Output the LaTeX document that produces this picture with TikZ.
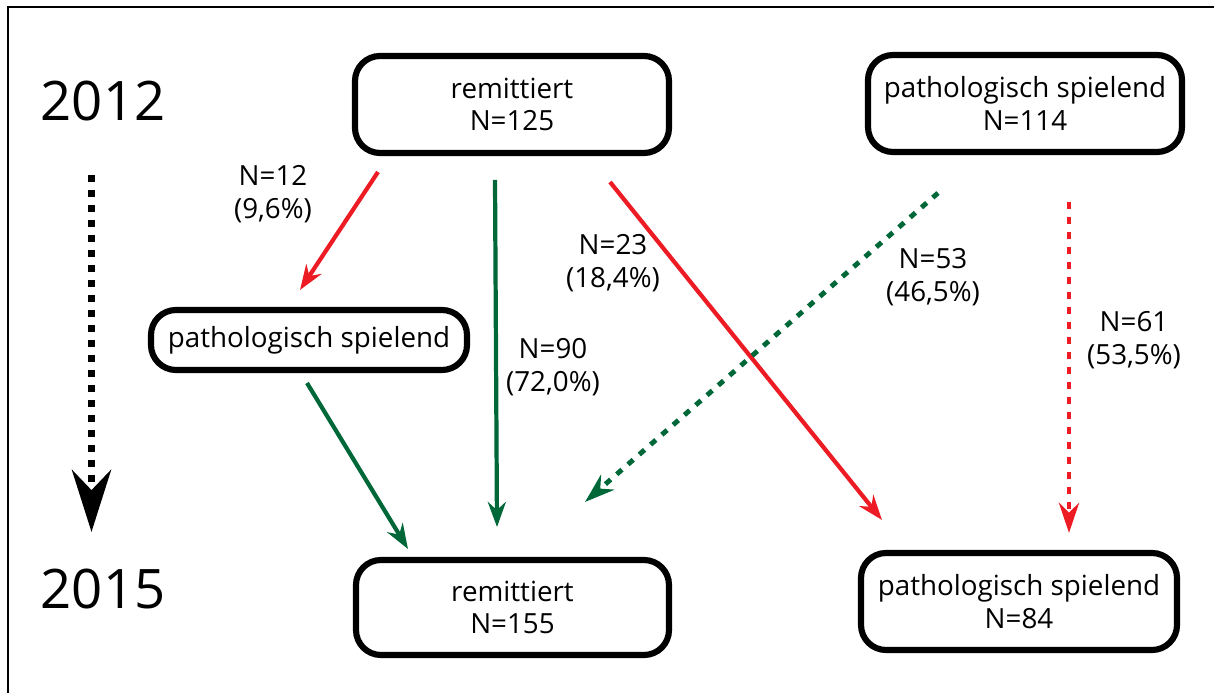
\documentclass[tikz,border=0pt]{standalone}
\usepackage{fontspec}
\setmainfont{Open Sans}
\usetikzlibrary{arrows.meta}
\usepackage{xcolor}
\definecolor{rot}{RGB}{237,28,36}
\definecolor{gruen}{RGB}{0,104,56}
\tikzset{
  gruppe/.style={draw, line width=3.5pt, rounded corners=0.5cm, align=center,
    inner sep=0pt, font=\fontsize{15.8}{18.5}\selectfont},
  anteil/.style={align=center, font=\fontsize{15.8}{18.5}\selectfont},
  jahr/.style={font=\fontsize{31}{36}\selectfont},
  pfeil/.style={line width=2.4pt, -{Stealth[length=0.5cm,width=0.36cm]}},
  punktpfeil/.style={line width=2.8pt, dash pattern=on 0.14cm off 0.16cm,
    -{Stealth[length=0.6cm,width=0.4cm]}}
}

\begin{document}
\begin{tikzpicture}
        \useasboundingbox (0,0) rectangle (24.28,13.86);
        \draw[line width=1.4pt] (0.16,0) -- (0.16,13.72) -- (24.28,13.72);

        \node[jahr] (j2012) at (2.06,11.84) {2012};
        \node[jahr] (j2015) at (2.06,2.08) {2015};

        \node[gruppe, minimum width=6.28cm, minimum height=1.94cm] (rem12) at (10.24,11.77) {remittiert\\N=125};
        \node[gruppe, minimum width=6.28cm, minimum height=1.94cm] (pat12) at (20.5,11.79) {pathologisch spielend\\N=114};
        \node[gruppe, minimum width=6.32cm, minimum height=1.2cm] (patmid) at (6.18,7.06) {pathologisch spielend};
        \node[gruppe, minimum width=6.26cm, minimum height=1.9cm] (rem15) at (10.25,1.71) {remittiert\\N=155};
        \node[gruppe, minimum width=6.32cm, minimum height=1.94cm] (pat15) at (20.38,1.83) {pathologisch spielend\\N=84};

        \coordinate (zeitA) at (1.83,10.36);
        \coordinate (zeitB) at (1.83,3.22);
        \coordinate (a1) at (7.56,10.42);
        \coordinate (b1) at (6.0,8.06);
        \coordinate (a2) at (9.9,10.26);
        \coordinate (b2) at (9.94,3.32);
        \coordinate (a3) at (12.2,10.22);
        \coordinate (b3) at (17.64,3.46);
        \coordinate (a4) at (18.76,10.0);
        \coordinate (b4) at (11.7,3.82);
        \coordinate (a5) at (21.38,9.82);
        \coordinate (b5) at (21.38,3.2);
        \coordinate (a6) at (6.14,6.2);
        \coordinate (b6) at (8.16,2.88);

        \draw[line width=4.5pt, dash pattern=on 0.15cm off 0.15cm,
          -{Stealth[length=1.24cm,width=0.78cm]}] (zeitA) -- (zeitB);

        \draw[pfeil, color=rot] (a1) -- (b1);
        \draw[pfeil, color=gruen] (a2) -- (b2);
        \draw[pfeil, color=rot] (a3) -- (b3);
        \draw[punktpfeil, color=gruen] (a4) -- (b4);
        \draw[punktpfeil, color=rot] (a5) -- (b5);
        \draw[pfeil, color=gruen] (a6) -- (b6);

        \node[anteil] (l1) at (5.46,9.98) {N=12\\(9,6\%)};
        \node[anteil] (l2) at (11.06,6.52) {N=90\\(72,0\%)};
        \node[anteil] (l3) at (12.26,8.6) {N=23\\(18,4\%)};
        \node[anteil] (l4) at (18.66,8.32) {N=53\\(46,5\%)};
        \node[anteil] (l5) at (22.68,7.06) {N=61\\(53,5\%)};

    \end{tikzpicture}
\end{document}
